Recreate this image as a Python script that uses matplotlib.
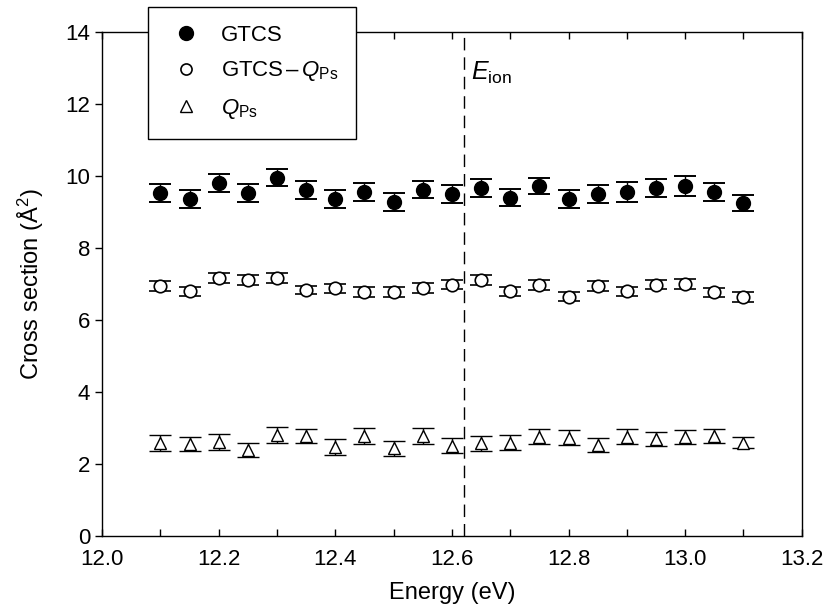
import matplotlib.pyplot as plt
from matplotlib.lines import Line2D
from matplotlib.ticker import MultipleLocator

plt.rcParams['font.family'] = ['Liberation Sans', 'DejaVu Sans']
plt.rcParams['mathtext.fontset'] = 'custom'
plt.rcParams['mathtext.rm'] = 'Liberation Sans'
plt.rcParams['mathtext.it'] = 'Liberation Sans:italic'

# energies (eV)
energy = [12.10, 12.15, 12.20, 12.25, 12.30, 12.35, 12.40, 12.45, 12.50, 12.55, 12.60,
          12.65, 12.70, 12.75, 12.80, 12.85, 12.90, 12.95, 13.00, 13.05, 13.10]

# grand total cross section
gtcs = [9.52, 9.34, 9.79, 9.52, 9.95, 9.59, 9.36, 9.55, 9.26, 9.61, 9.50,
        9.66, 9.39, 9.71, 9.34, 9.50, 9.55, 9.66, 9.72, 9.54, 9.24]
gtcs_err = [0.25, 0.25, 0.25, 0.25, 0.23, 0.25, 0.25, 0.25, 0.25, 0.24, 0.25,
            0.25, 0.24, 0.22, 0.25, 0.25, 0.27, 0.24, 0.27, 0.25, 0.22]

# GTCS - Q_Ps
diff = [6.94, 6.79, 7.17, 7.09, 7.17, 6.82, 6.87, 6.77, 6.77, 6.88, 6.97,
        7.09, 6.79, 6.95, 6.64, 6.93, 6.79, 6.97, 6.99, 6.76, 6.63]
diff_err = [0.14, 0.12, 0.14, 0.14, 0.14, 0.12, 0.13, 0.13, 0.13, 0.13, 0.13,
            0.14, 0.13, 0.14, 0.12, 0.14, 0.13, 0.13, 0.14, 0.13, 0.13]

# positronium formation cross section
qps = [2.56, 2.55, 2.61, 2.38, 2.80, 2.77, 2.46, 2.77, 2.42, 2.76, 2.50,
       2.56, 2.58, 2.75, 2.72, 2.52, 2.75, 2.69, 2.73, 2.76, 2.58]
qps_err = [0.22, 0.20, 0.22, 0.20, 0.22, 0.20, 0.22, 0.22, 0.20, 0.22, 0.20,
           0.20, 0.20, 0.20, 0.20, 0.20, 0.20, 0.20, 0.20, 0.20, 0.15]

e_ion = 12.62

fig = plt.figure(figsize=(8.3, 6.12), dpi=100)
ax = fig.add_axes([0.123, 0.125, 0.843, 0.823])

ebar = dict(ecolor='black', elinewidth=1.0, capsize=8, capthick=1.4, linestyle='none')
ax.errorbar(energy, gtcs, yerr=gtcs_err, fmt='o', ms=10, mfc='black', mec='black', **ebar)
ax.errorbar(energy, diff, yerr=diff_err, fmt='o', ms=9, mfc='white', mec='black', mew=1.2, **ebar)
ax.errorbar(energy, qps, yerr=qps_err, fmt='^', ms=9, mfc='white', mec='black', mew=1.0, **ebar)

ax.axvline(e_ion, color='black', lw=1.0, dashes=(9, 5))
ax.text(e_ion + 0.012, 12.85, r'$\mathit{E}_{\mathrm{ion}}$', fontsize=18, va='center')

ax.set_xlim(12.0, 13.2)
ax.set_ylim(0, 14)
ax.xaxis.set_major_locator(MultipleLocator(0.2))
ax.xaxis.set_minor_locator(MultipleLocator(0.1))
ax.yaxis.set_major_locator(MultipleLocator(2))
ax.xaxis.set_major_formatter(plt.FormatStrFormatter('%.1f'))

ax.tick_params(axis='x', which='both', direction='in', top=True, length=5, width=1,
               labelsize=16, pad=10)
ax.tick_params(axis='y', which='both', direction='out', right=False, length=5, width=1,
               labelsize=16)
for s in ax.spines.values():
    s.set_linewidth(1.0)

ax.set_xlabel('Energy (eV)', fontsize=17, labelpad=8)
ax.set_ylabel('Cross section (Å$^2$)', fontsize=17, labelpad=14)

handles = [
    Line2D([], [], ls='none', marker='o', ms=10, mfc='black', mec='black'),
    Line2D([], [], ls='none', marker='o', ms=8, mfc='white', mec='black', mew=1.2),
    Line2D([], [], ls='none', marker='^', ms=8, mfc='white', mec='black', mew=1.0),
]
labels = ['GTCS', r'GTCS$\,$–$\,\mathit{Q}_{\mathrm{Ps}}$', r'$\mathit{Q}_{\mathrm{Ps}}$']
leg = fig.legend(handles, labels, loc='upper left', bbox_to_anchor=(0.178, 0.988),
                 fontsize=16, frameon=True, fancybox=False, edgecolor='black', framealpha=1,
                 borderpad=0.8, labelspacing=0.6, handletextpad=0.7, handlelength=1.8,
                 borderaxespad=0)
leg.get_frame().set_linewidth(1.0)

fig.savefig('out.png', dpi=100)
